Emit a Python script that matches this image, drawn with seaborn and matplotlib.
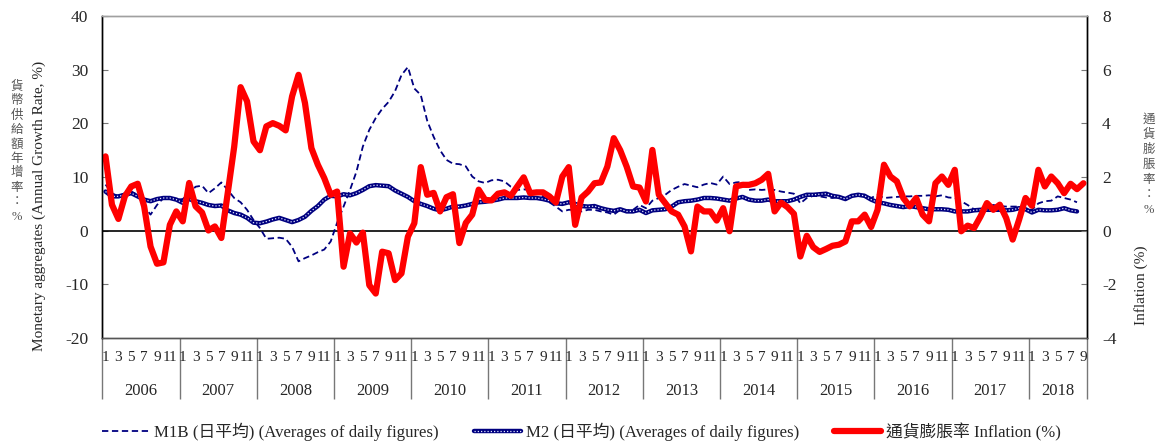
import numpy as np
import pandas as pd
import matplotlib
matplotlib.use("Agg")
import matplotlib.pyplot as plt
import matplotlib.transforms as mtransforms
import seaborn as sns

# Monthly data, Jan 2006 - Sep 2018 (money supply ends Aug 2018)
years = [2006, 2007, 2008, 2009, 2010, 2011, 2012, 2013, 2014, 2015, 2016, 2017, 2018]
n_months = 153

m1b = [8.6, 7.0, 6.4, 7.0, 7.3, 6.7, 4.5, 3.0, 4.8, 6.1, 6.1, 5.8,
       5.9, 7.0, 8.2, 8.4, 7.0, 7.9, 9.0, 7.6, 6.1, 5.3, 3.9, 2.0,
       0.5, -1.5, -1.4, -1.3, -1.5, -3.0, -5.7, -5.1, -4.6, -4.0, -3.5, -2.0,
       1.5, 4.5, 7.6, 11.0, 15.7, 18.8, 21.0, 22.7, 24.0, 26.0, 29.0, 30.5,
       26.5, 25.3, 20.5, 17.5, 15.0, 13.2, 12.5, 12.4, 12.0, 10.1, 9.2, 8.9,
       9.4, 9.5, 9.2, 8.2, 7.6, 7.7, 7.6, 7.3, 6.4, 5.3, 4.5, 3.6,
       3.9, 3.9, 3.6, 3.9, 3.9, 3.6, 3.4, 3.0, 3.9, 3.8, 3.9, 4.8,
       4.2, 5.6, 6.1, 6.7, 7.6, 8.2, 8.7, 8.4, 8.1, 8.6, 8.9, 8.6,
       10.1, 8.7, 9.0, 9.1, 7.6, 7.7, 7.6, 7.7, 7.6, 7.3, 7.1, 6.9,
       5.1, 6.1, 6.5, 6.4, 6.2, 6.1, 6.3, 5.8, 6.4, 6.7, 6.7, 6.1,
       6.7, 6.1, 6.2, 6.3, 6.4, 6.4, 6.5, 6.5, 6.6, 6.4, 6.6, 6.2,
       6.1, 5.5, 4.8, 4.0, 3.9, 4.5, 4.8, 4.6, 4.5, 4.5, 4.5, 3.9,
       3.9, 5.1, 5.5, 5.6, 6.4, 6.1, 5.8, 5.3]

m2 = [7.3, 6.4, 6.4, 6.7, 7.0, 6.4, 5.8, 5.5, 5.9, 6.1, 6.1, 5.8,
      5.2, 5.9, 5.5, 5.2, 4.8, 4.6, 4.7, 3.8, 3.3, 3.0, 2.4, 1.5,
      1.4, 1.7, 2.1, 2.4, 2.0, 1.6, 2.0, 2.6, 3.7, 4.6, 5.8, 6.5,
      6.4, 6.8, 6.6, 7.0, 7.6, 8.3, 8.5, 8.4, 8.3, 7.5, 6.9, 6.3,
      5.5, 5.0, 4.6, 4.1, 3.8, 4.1, 4.5, 4.5, 4.7, 5.0, 5.3, 5.4,
      5.6, 5.8, 6.1, 6.1, 6.1, 6.2, 6.1, 6.1, 5.9, 5.6, 5.1, 5.0,
      5.3, 5.0, 4.6, 4.5, 4.6, 4.2, 3.9, 3.7, 4.0, 3.6, 3.6, 3.9,
      3.3, 3.8, 3.9, 4.0, 4.5, 5.3, 5.5, 5.6, 5.8, 6.1, 6.1, 6.0,
      5.8, 5.6, 6.0, 6.3, 5.8, 5.6, 5.6, 5.8, 5.5, 5.5, 5.5, 5.8,
      6.3, 6.7, 6.7, 6.8, 6.9, 6.5, 6.3, 5.9, 6.5, 6.7, 6.5, 5.8,
      5.3, 5.1, 4.8, 4.6, 4.4, 4.6, 4.4, 4.2, 4.0, 4.0, 4.0, 3.9,
      3.6, 3.6, 3.6, 3.8, 3.9, 3.9, 3.9, 3.9, 3.8, 3.9, 4.2, 4.0,
      3.4, 3.9, 3.8, 3.8, 3.9, 4.2, 3.8, 3.6]

inflation = [2.77, 0.97, 0.44, 1.28, 1.65, 1.75, 0.91, -0.59, -1.23, -1.18, 0.22, 0.72,
             0.35, 1.78, 0.91, 0.68, 0.01, 0.16, -0.27, 1.41, 3.13, 5.35, 4.82, 3.33,
             3.00, 3.89, 4.01, 3.91, 3.74, 5.01, 5.81, 4.76, 3.08, 2.46, 1.96, 1.34,
             1.46, -1.34, -0.10, -0.44, -0.07, -2.03, -2.34, -0.78, -0.84, -1.84, -1.59, -0.22,
             0.28, 2.37, 1.34, 1.41, 0.72, 1.25, 1.36, -0.46, 0.29, 0.60, 1.53, 1.15,
             1.13, 1.38, 1.43, 1.30, 1.65, 1.99, 1.40, 1.43, 1.43, 1.28, 1.05, 2.02,
             2.37, 0.22, 1.24, 1.46, 1.77, 1.80, 2.39, 3.45, 3.00, 2.39, 1.65, 1.61,
             1.09, 3.01, 1.34, 1.03, 0.72, 0.60, 0.16, -0.77, 0.90, 0.72, 0.72, 0.38,
             0.84, -0.02, 1.65, 1.71, 1.71, 1.77, 1.90, 2.12, 0.72, 1.05, 0.88, 0.63,
             -0.96, -0.19, -0.61, -0.79, -0.68, -0.56, -0.52, -0.40, 0.35, 0.35, 0.60, 0.14,
             0.78, 2.46, 2.02, 1.84, 1.22, 0.91, 1.22, 0.60, 0.35, 1.77, 2.02, 1.71,
             2.27, -0.02, 0.19, 0.10, 0.53, 1.03, 0.78, 0.97, 0.47, -0.33, 0.41, 1.22,
             0.93, 2.27, 1.65, 2.02, 1.77, 1.40, 1.75, 1.55, 1.77]

label_m1b = "M1B (日平均) (Averages of daily figures)"
label_m2 = "M2 (日平均) (Averages of daily figures)"
label_cpi = "通貨膨脹率 Inflation (%)"
ylabel_left_zh = "貨幣供給額年增率：%"
ylabel_left_en = "Monetary aggregates (Annual Growth Rate, %)"
ylabel_right_zh = "通貨膨脹率：%"
ylabel_right_en = "Inflation (%)"

money = pd.DataFrame({"t": range(len(m1b)), "m1b": m1b, "m2": m2})
cpi = pd.DataFrame({"t": range(len(inflation)), "cpi": inflation})

sns.set_style("ticks")
plt.rcParams["font.family"] = ["Liberation Serif", "Noto Sans CJK TC"]
plt.rcParams["axes.unicode_minus"] = False

navy = "#000080"
red = "#ff0000"

fig, ax = plt.subplots(figsize=(11.56, 4.46), dpi=100)
fig.subplots_adjust(left=0.0885, right=0.9400, top=0.964, bottom=0.242)

ax.axhline(0, color="black", lw=1.2, zorder=1)
sns.lineplot(data=money, x="t", y="m1b", ax=ax, color=navy, lw=1.3,
             linestyle=(0, (3.5, 2.0)))
l_m1b = ax.lines[-1]
sns.lineplot(data=money, x="t", y="m2", ax=ax, color=navy, lw=3.2)
l_m2a = ax.lines[-1]
sns.lineplot(data=money, x="t", y="m2", ax=ax, color="#dfe4ff", lw=0.9,
             linestyle=(0, (1.0, 1.6)))
l_m2b = ax.lines[-1]

ax2 = ax.twinx()
sns.lineplot(data=cpi, x="t", y="cpi", ax=ax2, color=red, lw=4.5)
l_cpi = ax2.lines[-1]

# axes limits / ticks
ax.set_xlim(-0.5, n_months - 0.5)
ax.set_ylim(-20, 40)
ax.set_yticks(range(-20, 41, 10))
ax2.set_ylim(-4, 8)
ax2.set_yticks(range(-4, 9, 2))
for a in (ax, ax2):
    a.set_xlabel("")
    a.set_ylabel("")

# long ticks at year boundaries act as separators for the year labels
bounds = [-0.5] + [12 * k - 0.5 for k in range(1, len(years))] + [n_months - 0.5]
ax.set_xticks(bounds)
ax.set_xticklabels([""] * len(bounds))
ax.tick_params(axis="x", which="major", bottom=True, direction="out", length=44,
               width=1, color="#777777")

odd = [t for t in range(n_months) if t % 12 % 2 == 0]
ax.set_xticks(odd, minor=True)
ax.set_xticklabels([str(t % 12 + 1) for t in odd], minor=True)
ax.tick_params(axis="x", which="minor", bottom=True, length=0, pad=9, labelsize=11)

ax.tick_params(axis="y", left=True, right=False, direction="in", length=4,
               color="#777777", labelsize=12.5, pad=10)
ax2.tick_params(axis="y", right=True, left=False, direction="in", length=4,
                color="#777777", labelsize=12.5, pad=11)

trans = mtransforms.blended_transform_factory(ax.transData, ax.transAxes)
for k, yr in enumerate(years):
    span = min(12, n_months - 12 * k)
    ax.text(12 * k + (span - 1) / 2, -0.163, str(yr), transform=trans,
            ha="center", va="center", fontsize=12)

for a in (ax, ax2):
    a.spines["top"].set_color("#a0a0a0")
    a.spines["bottom"].set_color("#555555")
    a.spines["left"].set_color("black")
    a.spines["right"].set_color("black")
    for s in a.spines.values():
        s.set_visible(True)
        s.set_linewidth(1.0)

# axis titles (Chinese stacked vertically, English rotated)
for k, ch in enumerate(ylabel_left_zh):
    fig.text(17 / 1156, 1 - (87 + 14.4 * k) / 446, ch, ha="center", va="center",
             fontsize=9, color="#555555")
fig.text(39 / 1156, 1 - 206 / 446, ylabel_left_en, rotation=90, ha="center",
         va="center", fontsize=11)
for k, ch in enumerate(ylabel_right_zh):
    fig.text(1149 / 1156, 1 - (120 + 15 * k) / 446, ch, ha="center", va="center",
             fontsize=9, color="#555555")
fig.text(1141 / 1156, 1 - 285 / 446, ylabel_right_en, rotation=90, ha="center",
         va="center", fontsize=11)

fig.legend([l_m1b, (l_m2a, l_m2b), l_cpi], [label_m1b, label_m2, label_cpi],
           loc="center left", bbox_to_anchor=(0.088, 0.031), ncol=3, frameon=False,
           handlelength=2.8, columnspacing=2.1, handletextpad=0.3, fontsize=12.1,
           borderaxespad=0, borderpad=0)

fig.savefig("out.png", dpi=100)
